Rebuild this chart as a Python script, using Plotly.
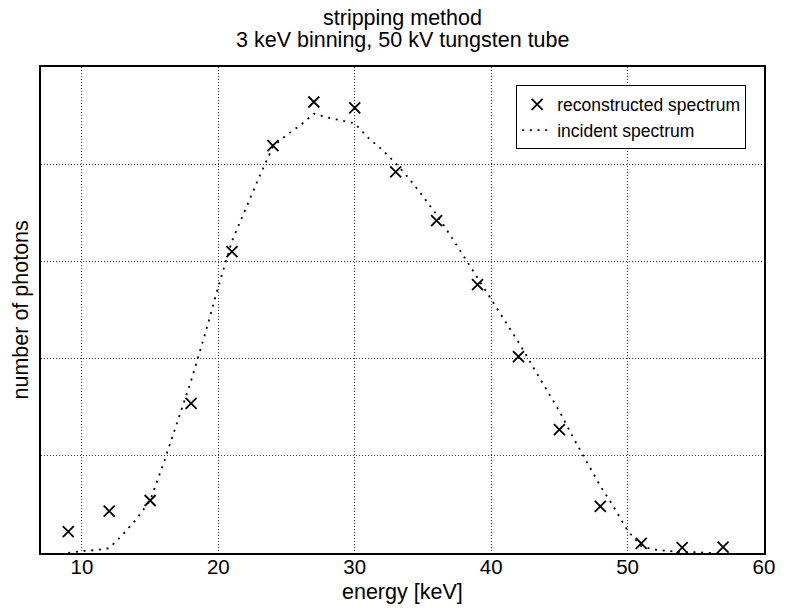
import plotly.graph_objects as go

# reconstructed spectrum (3 keV bins)
rec_energy = [9, 12, 15, 18, 21, 24, 27, 30, 33, 36, 39, 42, 45, 48, 51, 54, 57]
rec_counts = [0.22, 0.43, 0.54, 1.54, 3.10, 4.19, 4.64, 4.58, 3.92, 3.42, 2.76,
              2.02, 1.27, 0.48, 0.10, 0.056, 0.06]

# incident spectrum (1 keV)
inc_energy = list(range(9, 58))
inc_counts = [0.00, 0.02, 0.03, 0.05, 0.19, 0.35, 0.54, 0.93, 1.35, 1.77,
              2.24, 2.74, 3.21, 3.54, 3.87, 4.18, 4.30, 4.40, 4.52, 4.48,
              4.45, 4.42, 4.27, 4.15, 4.01, 3.85, 3.67, 3.48, 3.27, 3.05,
              2.83, 2.61, 2.40, 2.17, 1.93, 1.69, 1.46, 1.19, 0.94, 0.69,
              0.47, 0.23, 0.07, 0.035, 0.02, 0.01, 0.01, 0.0, 0.0]

x_ticks = [10, 20, 30, 40, 50, 60]
title_lines = ["stripping method", "3 keV binning, 50 kV tungsten tube"]

FONT = "Liberation Sans, Arial, sans-serif"

fig = go.Figure()
fig.add_trace(go.Scatter(
    x=rec_energy, y=rec_counts, mode="markers", name="reconstructed spectrum",
    marker=dict(symbol="x-thin", size=11, color="black",
                line=dict(width=1.8, color="black")),
))
fig.add_trace(go.Scatter(
    x=inc_energy, y=inc_counts, mode="lines", name="incident spectrum",
    line=dict(color="black", width=1.8, dash="2px,5.7px"),
))

fig.update_layout(
    width=787, height=608,
    margin=dict(l=41, r=16, t=67, b=55),
    paper_bgcolor="white", plot_bgcolor="white",
    font=dict(family=FONT, color="black", size=20),
    showlegend=True,
    legend=dict(
        x=0.9753, y=0.962, xanchor="right", yanchor="top",
        bgcolor="white", bordercolor="black", borderwidth=1,
        font=dict(family=FONT, size=17.5, color="black"),
        tracegroupgap=0,
    ),
    annotations=[
        dict(text=title_lines[0], xref="paper", yref="paper", x=0.5, y=1.1005,
             xanchor="center", yanchor="middle", showarrow=False,
             font=dict(family=FONT, size=21.5, color="black")),
        dict(text=title_lines[1], xref="paper", yref="paper", x=0.5, y=1.0555,
             xanchor="center", yanchor="middle", showarrow=False,
             font=dict(family=FONT, size=21.5, color="black")),
        dict(text="number of photons", xref="paper", yref="paper", x=-0.027, y=0.5,
             xanchor="center", yanchor="middle", textangle=-90, showarrow=False,
             font=dict(family=FONT, size=21.5, color="black")),
        dict(text="energy [keV]", xref="paper", yref="paper", x=0.5, y=-0.08,
             xanchor="center", yanchor="middle", showarrow=False,
             font=dict(family=FONT, size=21.5, color="black")),
    ],
)

fig.update_xaxes(
    range=[7, 60], tickmode="array", tickvals=x_ticks,
    ticktext=[str(v) for v in x_ticks],
    showgrid=True, gridcolor="#333", gridwidth=1, griddash="1px,2px",
    showline=True, linecolor="black", linewidth=1.5, mirror=True,
    ticks="", zeroline=False, ticklabelstandoff=-5,
    tickfont=dict(family=FONT, size=20.5, color="black"),
)
fig.update_yaxes(
    range=[0, 5], dtick=1, showticklabels=False,
    showgrid=True, gridcolor="#333", gridwidth=1, griddash="1px,2px",
    showline=True, linecolor="black", linewidth=1.5, mirror=True,
    ticks="", zeroline=False,
)

fig.write_html("out.html")
